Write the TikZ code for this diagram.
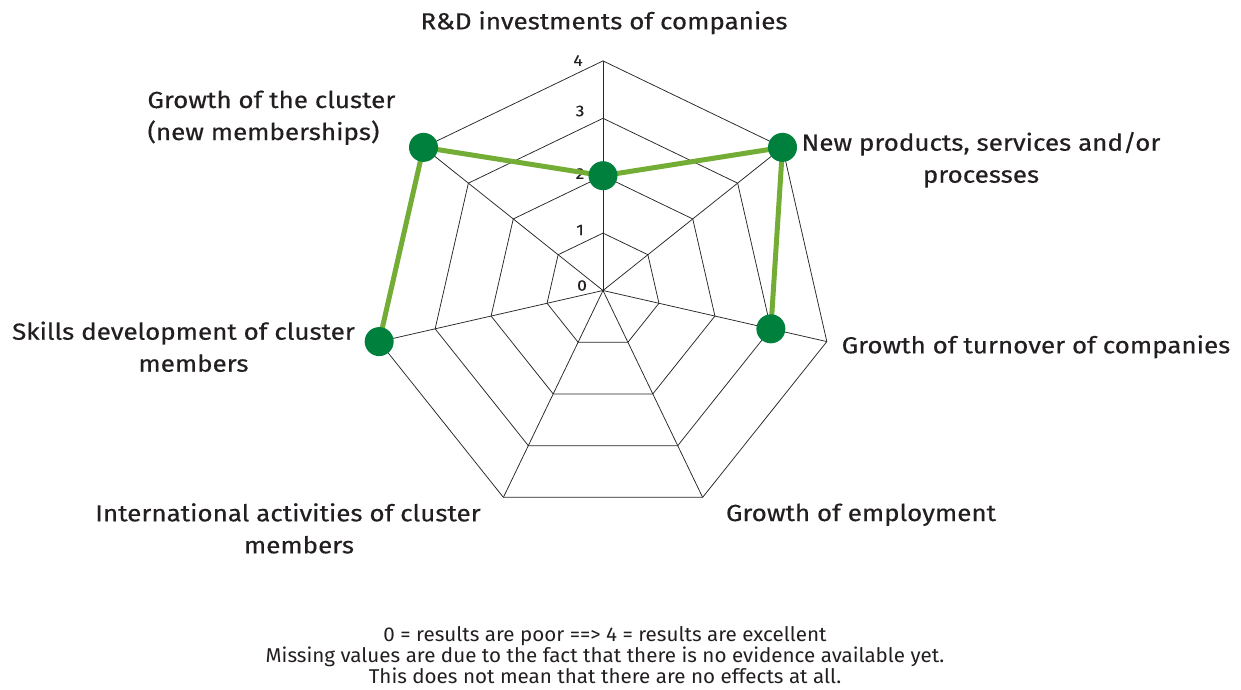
\documentclass[tikz,border=0pt]{standalone}
\usepackage{fontspec}
\setmainfont{Fira Sans}
\newfontfamily\lblfont[FakeStretch=1.12,FakeBold=0.4]{Fira Sans}
\newfontfamily\footfont[FakeStretch=1.03]{Fira Sans}
\definecolor{dotgreen}{HTML}{00803D}
\definecolor{linegreen}{HTML}{74AD35}
\definecolor{txt}{HTML}{231F20}
\begin{document}
\begin{tikzpicture}[x=1pt,y=-1pt,
  grid/.style={draw=black!85, line width=0.75pt},
  lbl/.style={font=\lblfont\fontsize{23.2}{32}\selectfont, text=txt, align=center, inner sep=0pt},
  tick/.style={font=\lblfont\fontsize{15.5}{17}\selectfont, text=txt, inner sep=0pt},
  dot/.style={circle, fill=dotgreen, minimum size=29pt, inner sep=0pt},
  series/.style={draw=linegreen, line width=5pt, line join=round},
  foot/.style={font=\footfont\fontsize{20}{19.2}\selectfont, text=txt, align=center, inner sep=0pt}]
\useasboundingbox (0,0) rectangle (1241,689);
\coordinate (c) at (603,290.5);
% rings
\foreach \r in {57.4,114.8,172.2,229.6}{
  \draw[grid] ({603+\r*cos(90)},{290.5-\r*sin(90)})
    \foreach \k in {1,...,6}{ -- ({603+\r*cos(90-\k*360/7)},{290.5-\r*sin(90-\k*360/7)}) } -- cycle;
}
% spokes
\foreach \k in {0,...,6}{
  \coordinate (s\k) at ({603+229.6*cos(90-\k*360/7)},{290.5-229.6*sin(90-\k*360/7)});
  \draw[grid] (c) -- (s\k);
}
% tick labels
\node[tick] (t4) at (578,60.5) {4};
\node[tick] (t3) at (580,111) {3};
\node[tick] (t2) at (580,173.5) {2};
\node[tick] (t1) at (580,230) {1};
\node[tick] (t0) at (582,285.5) {0};
% data points
\coordinate (prd) at ({603+114.8*cos(90)},{290.5-114.8*sin(90)});
\coordinate (pnp) at ({603+229.6*cos(90-360/7)},{290.5-229.6*sin(90-360/7)});
\coordinate (pto) at ({603+172.2*cos(90-2*360/7)},{290.5-172.2*sin(90-2*360/7)});
\coordinate (psk) at ({603+229.6*cos(90-5*360/7)},{290.5-229.6*sin(90-5*360/7)});
\coordinate (pcl) at ({603+229.6*cos(90-6*360/7)},{290.5-229.6*sin(90-6*360/7)});
\draw[series] (psk) -- (pcl) -- (prd) -- (pnp) -- (pto);
\foreach \p in {prd,pnp,pto,psk,pcl}{ \node[dot] (d\p) at (\p) {}; }
% axis labels
\node[lbl, anchor=base] (lrd) at (604,29.3) {R\&D investments of companies};
\node[lbl, anchor=base] (lnp) at (981,182.7) {New products, services and/or\\processes};
\node[lbl, anchor=base] (lto) at (1036,353.3) {Growth of turnover of companies};
\node[lbl, anchor=base] (lem) at (861,521) {Growth of employment};
\node[lbl, anchor=base] (lin) at (288,553.3) {International activities of cluster\\\hspace*{22pt}members};
\node[lbl, anchor=base] (lsk) at (183.5,371.7) {Skills development of cluster\\\hspace*{20pt}members};
\node[lbl, anchor=base west, align=left] (lcl) at (147.3,140) {Growth of the cluster\\(new memberships)};
% footer
\node[foot, anchor=base] (ft) at (605,683) {0 = results are poor ==> 4 = results are excellent\\Missing values are due to the fact that there is no evidence available yet.\\This does not mean that there are no effects at all.};
\end{tikzpicture}
\end{document}
